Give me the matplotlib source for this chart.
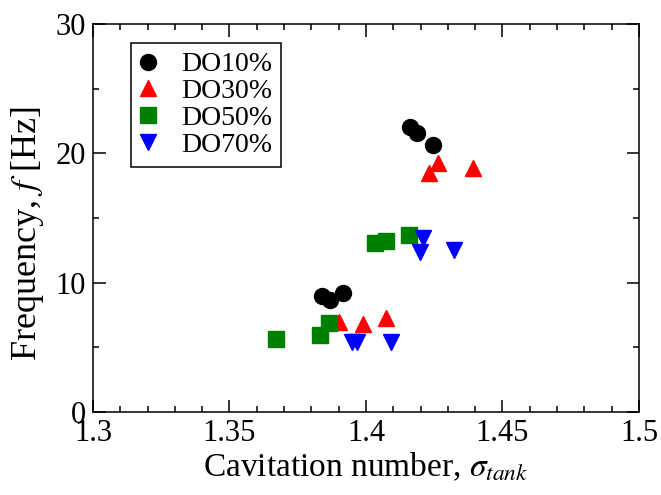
import matplotlib
matplotlib.use("Agg")
import matplotlib.pyplot as plt
from matplotlib.ticker import MultipleLocator

plt.rcParams['font.family'] = ['Liberation Serif', 'DejaVu Serif']
plt.rcParams['mathtext.fontset'] = 'stix'

# data
do10_x = [1.4161, 1.4186, 1.4247, 1.3838, 1.3868, 1.3915]
do10_y = [22.06, 21.55, 20.64, 8.97, 8.66, 9.18]
do30_x = [1.4265, 1.4231, 1.4393, 1.3902, 1.3990, 1.4073]
do30_y = [19.28, 18.48, 18.86, 6.94, 6.80, 7.24]
do50_x = [1.3670, 1.3832, 1.3866, 1.4033, 1.4073, 1.4159]
do50_y = [5.64, 5.95, 6.86, 13.04, 13.22, 13.66]
do70_x = [1.4207, 1.4196, 1.4322, 1.3948, 1.3968, 1.4092]
do70_y = [13.48, 12.40, 12.53, 5.44, 5.44, 5.44]

fig = plt.figure(figsize=(6.61, 4.95), dpi=100)
ax = fig.add_axes([0.1407, 0.1677, 0.826, 0.7838])

ax.plot(do10_x, do10_y, 'o', color='black', markersize=11.5, linestyle='none', label='DO10%')
ax.plot(do30_x, do30_y, '^', color='red', markersize=12, linestyle='none', label='DO30%')
ax.plot(do50_x, do50_y, 's', color='green', markersize=11, linestyle='none', label='DO50%')
ax.plot(do70_x, do70_y, 'v', color='blue', markersize=12, linestyle='none', label='DO70%')

ax.set_xlim(1.3, 1.5)
ax.set_ylim(0, 30)
ax.xaxis.set_minor_locator(MultipleLocator(0.01))
ax.yaxis.set_major_locator(MultipleLocator(10))
ax.yaxis.set_minor_locator(MultipleLocator(5))
ax.set_xticks([1.3, 1.35, 1.4, 1.45, 1.5])
ax.set_xticklabels(['1.3', '1.35', '1.4', '1.45', '1.5'])
ax.tick_params(which='both', direction='in', top=True, right=True, width=1.1, labelsize=22, pad=5)
ax.tick_params(which='major', length=9)
ax.tick_params(which='minor', length=4.5)
for s in ax.spines.values():
    s.set_linewidth(1.1)

ax.set_xlabel(r'Cavitation number, $\sigma_{tank}$', fontsize=24, labelpad=2)
ax.set_ylabel(r'Frequency, $f$ [Hz]', fontsize=26)
ax.yaxis.set_label_coords(-0.086, 0.46)

leg = ax.legend(loc='upper left', bbox_to_anchor=(0.069, 0.951), borderaxespad=0,
                fontsize=20, fancybox=False, edgecolor='black', framealpha=1,
                handlelength=0.6, handletextpad=0.9, labelspacing=0.05,
                borderpad=0.32, numpoints=1)
leg.get_frame().set_linewidth(1.1)

plt.savefig('out.png', dpi=100)
plt.close()
